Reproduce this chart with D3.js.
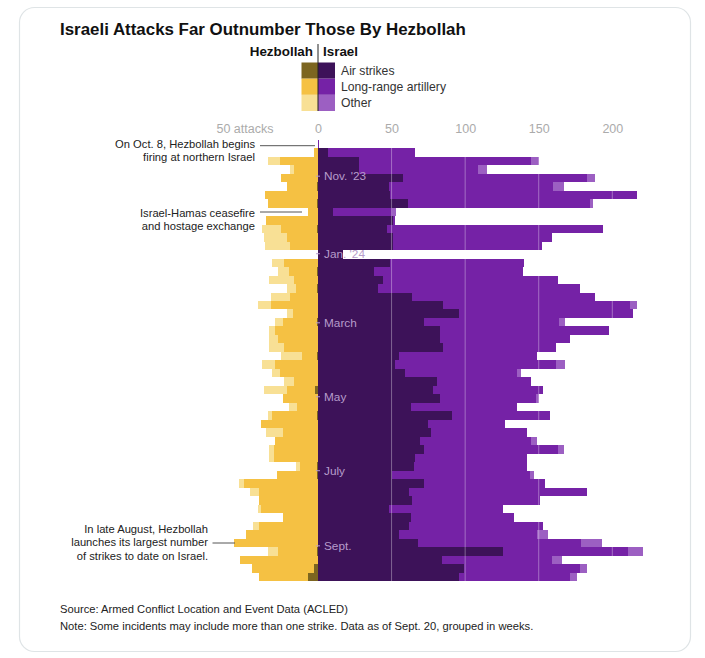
<!DOCTYPE html>
<html>
<head>
<meta charset="utf-8">
<script src="https://cdn.jsdelivr.net/npm/d3@7"></script>
<style>
  html, body { margin: 0; padding: 0; background: #fff; }
  text { font-family: "Liberation Sans", sans-serif; }
</style>
</head>
<body>
<div id="chart"></div>
<script>
// weekly attack counts, first row is the week of Oct. 2, 2023
const firstWeek = new Date(2023, 9, 2);

const israelAir = [0, 7, 28, 28, 58, 48, 49, 61, 10, 51, 47, 51, 51, 17, 49, 38, 44, 41, 64, 85, 96, 72, 83, 83, 85, 55, 52, 59, 81, 78, 83, 63, 91, 75, 77, 69, 72, 66, 65, 50, 72, 62, 64, 48, 63, 62, 55, 68, 126, 84, 99, 96];
const israelLong = [1, 59, 117, 81, 125, 112, 168, 124, 40, 1, 147, 108, 101, 0, 91, 101, 119, 137, 124, 127, 118, 92, 115, 88, 77, 94, 110, 76, 64, 75, 65, 72, 67, 52, 65, 76, 91, 76, 77, 94, 82, 121, 87, 78, 70, 91, 94, 111, 85, 75, 79, 75];
const israelOther = [0, 0, 5, 6, 5, 7, 0, 2, 3, 0, 0, 0, 0, 0, 0, 0, 0, 0, 0, 5, 0, 4, 0, 0, 0, 0, 6, 3, 0, 0, 2, 0, 0, 0, 0, 4, 4, 0, 0, 3, 0, 0, 0, 0, 0, 0, 7, 14, 10, 7, 5, 5];

const hezbollahAir = [0, 0, 0, 0, 0, 1, 0, 1, 0, 0, 1, 0, 0, 0, 0, 1, 0, 1, 0, 0, 0, 1, 0, 0, 0, 1, 0, 0, 0, 2, 0, 0, 1, 0, 0, 0, 0, 0, 1, 1, 0, 0, 0, 0, 0, 0, 0, 0, 1, 0, 3, 7];
const hezbollahLong = [0, 3, 26, 16, 25, 20, 36, 33, 7, 35, 24, 21, 19, 0, 23, 19, 16, 14, 19, 32, 17, 23, 29, 27, 23, 10, 29, 26, 16, 19, 24, 14, 30, 39, 24, 29, 30, 30, 11, 27, 50, 40, 40, 39, 24, 40, 49, 57, 26, 53, 42, 33];
const hezbollahOther = [0, 0, 8, 3, 0, 0, 0, 0, 0, 0, 13, 16, 17, 0, 8, 7, 17, 6, 13, 9, 4, 5, 4, 6, 10, 14, 9, 5, 7, 16, 0, 6, 3, 0, 11, 0, 3, 3, 3, 0, 4, 6, 0, 2, 0, 4, 0, 0, 7, 0, 0, 0];

const xTicks = [-50, 0, 50, 100, 150, 200];
const monthDates = [new Date(2023, 10, 1), new Date(2024, 0, 4), new Date(2024, 2, 1), new Date(2024, 4, 1), new Date(2024, 6, 1), new Date(2024, 8, 1)];
const monthLabels = ["Nov. '23", "Jan. '24", "March", "May", "July", "Sept."];
const legendLabels = ["Air strikes", "Long-range artillery", "Other"];

const israelColors = ["#3d1259", "#7522a6", "#9c5fc2"];
const hezbollahColors = ["#7c6520", "#f5c143", "#f8e095"];

const width = 705;
const height = 658;

const weeks = israelAir.map((d, i) => d3.timeDay.offset(firstWeek, i * 7));

const x = d3.scaleLinear().domain([0, 200]).range([318, 612.3]);
const y = d3.scaleTime()
  .domain([firstWeek, d3.timeDay.offset(firstWeek, weeks.length * 7)])
  .range([139.8, 581]);

const svg = d3.select("#chart").append("svg")
  .attr("width", width)
  .attr("height", height)
  .style("display", "block");

// card
svg.append("rect")
  .attr("x", 19.5).attr("y", 7.5)
  .attr("width", 671).attr("height", 644)
  .attr("rx", 15)
  .attr("fill", "#fff")
  .attr("stroke", "#dfe4e6")
  .attr("stroke-width", 1.2);

svg.append("text")
  .attr("x", 60).attr("y", 35)
  .attr("font-size", 16.9).attr("font-weight", 700)
  .attr("fill", "#111")
  .text("Israeli Attacks Far Outnumber Those By Hezbollah");

// legend
const legendBand = d3.scaleBand().domain(legendLabels).range([62.5, 111]);
const legend = svg.append("g");
legend.selectAll(".leg-h").data(legendLabels).enter().append("rect")
  .attr("x", 301.5).attr("width", 16.5)
  .attr("y", (d) => legendBand(d)).attr("height", legendBand.bandwidth())
  .attr("fill", (d, i) => hezbollahColors[i]);
legend.selectAll(".leg-i").data(legendLabels).enter().append("rect")
  .attr("x", 318).attr("width", 17)
  .attr("y", (d) => legendBand(d)).attr("height", legendBand.bandwidth())
  .attr("fill", (d, i) => israelColors[i]);
legend.selectAll(".leg-t").data(legendLabels).enter().append("text")
  .attr("x", 341)
  .attr("y", (d) => legendBand(d) + legendBand.bandwidth() / 2 + 4.3)
  .attr("font-size", 12.2).attr("fill", "#333")
  .text((d) => d);
legend.append("line")
  .attr("x1", 318).attr("x2", 318).attr("y1", 44).attr("y2", 111)
  .attr("stroke", "#222").attr("stroke-width", 1);
legend.append("text").attr("x", 313).attr("y", 55.5)
  .attr("text-anchor", "end").attr("font-size", 13.4).attr("font-weight", 700).attr("fill", "#111")
  .text("Hezbollah");
legend.append("text").attr("x", 323).attr("y", 55.5)
  .attr("font-size", 13.4).attr("font-weight", 700).attr("fill", "#111")
  .text("Israel");

// axis on top
const xAxis = d3.axisTop(x)
  .tickValues(xTicks)
  .tickSize(0)
  .tickFormat((d) => (d < 0 ? "50 attacks" : d));
const axisG = svg.append("g")
  .attr("transform", "translate(0,136)")
  .call(xAxis);
axisG.select(".domain").remove();
axisG.selectAll("text")
  .attr("font-size", 12.5)
  .attr("fill", "#ababab")
  .style("font-family", '"Liberation Sans", sans-serif');

// stacked bars, both sides start from zero
function drawStack(series, colors, sign) {
  series.forEach((values, s) => {
    svg.append("g").attr("shape-rendering", "crispEdges").selectAll("rect")
      .data(values)
      .enter()
      .append("rect")
      .attr("x", (d, i) => {
        const base = d3.sum(series.slice(0, s), (v) => v[i]);
        return sign > 0 ? x(base) : x(-base - d);
      })
      .attr("width", (d) => x(d) - x(0))
      .attr("y", (d, i) => y(weeks[i]))
      .attr("height", (d, i) => y(d3.timeDay.offset(weeks[i], 7)) - y(weeks[i]))
      .attr("fill", colors[s]);
  });
}
drawStack([hezbollahAir, hezbollahLong, hezbollahOther], hezbollahColors, -1);
drawStack([israelAir, israelLong, israelOther], israelColors, 1);

// white grid lines on top of the bars
svg.append("g").selectAll("line")
  .data(xTicks.filter((d) => d > 0))
  .enter()
  .append("line")
  .attr("x1", (d) => x(d)).attr("x2", (d) => x(d))
  .attr("y1", y(weeks[0])).attr("y2", 581)
  .attr("stroke", "#fff").attr("stroke-opacity", 0.35).attr("stroke-width", 1);

// month labels
const months = svg.append("g");
months.selectAll("line").data(monthDates).enter().append("line")
  .attr("x1", x(0) - 2).attr("x2", x(0) + 2)
  .attr("y1", (d) => y(d)).attr("y2", (d) => y(d))
  .attr("stroke", "#b79ccb").attr("stroke-width", 1);
months.selectAll("text").data(monthDates).enter().append("text")
  .attr("x", 324)
  .attr("y", (d) => y(d) + 4)
  .attr("font-size", 11.8)
  .attr("fill", "#b79ccb")
  .text((d, i) => monthLabels[i]);

// annotations
const annotations = [
  { lines: ["On Oct. 8, Hezbollah begins", "firing at northern Israel"], right: 255, top: 148, x1: 260, x2: 315, ly: 145.7 },
  { lines: ["Israel-Hamas ceasefire", "and hostage exchange"], right: 255, top: 216.5, x1: 260, x2: 302, ly: 212 },
  { lines: ["In late August, Hezbollah", "launches its largest number", "of strikes to date on Israel."], right: 208, top: 533, x1: 212.5, x2: 235, ly: 543 }
];
annotations.forEach((a) => {
  a.lines.forEach((t, i) => {
    svg.append("text")
      .attr("x", a.right)
      .attr("y", a.top + i * 13.4)
      .attr("text-anchor", "end")
      .attr("font-size", 11.2)
      .attr("fill", "#222")
      .text(t);
  });
  svg.append("line")
    .attr("x1", a.x1).attr("x2", a.x2)
    .attr("y1", a.ly).attr("y2", a.ly)
    .attr("stroke", "#555").attr("stroke-width", 1);
});

// footer
svg.append("text").attr("x", 60).attr("y", 613)
  .attr("font-size", 11.2).attr("fill", "#222")
  .text("Source: Armed Conflict Location and Event Data (ACLED)");
svg.append("text").attr("x", 60).attr("y", 630)
  .attr("font-size", 11.2).attr("fill", "#222")
  .text("Note: Some incidents may include more than one strike. Data as of Sept. 20, grouped in weeks.");
</script>
</body>
</html>
